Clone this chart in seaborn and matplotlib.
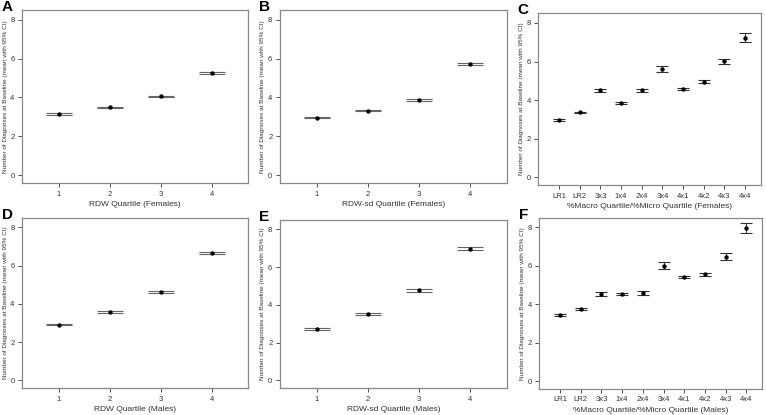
import numpy as np
import pandas as pd
import matplotlib.pyplot as plt
import seaborn as sns

sns.set_theme(style="white")
plt.rcParams['font.family'] = ['Liberation Sans', 'DejaVu Sans']

# data: means and half-widths of 95% CI
quart = ['1', '2', '3', '4']
combo = ['LR1', 'LR2', '3x3', '1x4', '2x4', '3x4', '4x1', '4x2', '4x3', '4x4']

a_mean = [3.16, 3.49, 4.05, 5.28]
a_ci = [0.04, 0.04, 0.05, 0.05]
b_mean = [2.96, 3.32, 3.88, 5.74]
b_ci = [0.04, 0.04, 0.05, 0.05]
c_mean = [2.95, 3.37, 4.52, 3.85, 4.52, 5.61, 4.59, 4.96, 6.01, 7.24]
c_ci = [0.05, 0.04, 0.08, 0.05, 0.08, 0.16, 0.05, 0.07, 0.13, 0.22]
d_mean = [2.92, 3.58, 4.60, 6.66]
d_ci = [0.04, 0.05, 0.05, 0.06]
e_mean = [2.73, 3.54, 4.77, 6.98]
e_ci = [0.04, 0.05, 0.06, 0.07]
f_mean = [3.44, 3.76, 4.54, 4.53, 4.59, 6.02, 5.42, 5.57, 6.48, 7.98]
f_ci = [0.05, 0.04, 0.09, 0.04, 0.08, 0.17, 0.05, 0.08, 0.17, 0.25]

panels = [
    ('A', quart, a_mean, a_ci, 'RDW Quartile (Females)', [0.029, 0.559, 0.295, 0.417]),
    ('B', quart, b_mean, b_ci, 'RDW-sd Quartile (Females)', [0.3655, 0.559, 0.296, 0.417]),
    ('C', combo, c_mean, c_ci, '%Macro Quartile/%Micro Quartile (Females)', [0.703, 0.554, 0.290, 0.414]),
    ('D', quart, d_mean, d_ci, 'RDW Quartile (Males)', [0.029, 0.065, 0.295, 0.410]),
    ('E', quart, e_mean, e_ci, 'RDW-sd Quartile (Males)', [0.3655, 0.065, 0.296, 0.405]),
    ('F', combo, f_mean, f_ci, '%Macro Quartile/%Micro Quartile (Males)', [0.704, 0.063, 0.291, 0.412]),
]

fig = plt.figure(figsize=(7.66, 4.15), dpi=100)

for letter, cats, mean, ci, xlab, pos in panels:
    ax = fig.add_axes(pos)
    df = pd.DataFrame({'cat': cats, 'mean': mean, 'ci': ci})
    df['x'] = np.arange(len(cats))
    wide = len(cats) == 4
    ax.errorbar(df['x'], df['mean'], yerr=df['ci'], fmt='none',
                ecolor='#666666' if wide else '#333333', elinewidth=0.8,
                capsize=9.5 if wide else 4.5, capthick=0.8, zorder=2)
    sns.scatterplot(data=df, x='x', y='mean', ax=ax, color='black',
                    s=10, edgecolor='black', linewidth=0, zorder=3, legend=False)
    ax.set_xticks(df['x'])
    ax.set_xticklabels(cats)
    if wide:
        ax.set_xlim(-0.72, 3.72)
    else:
        ax.set_xlim(-1.0, 9.76)
    ax.set_ylim(-0.4, 8.5)
    ax.set_yticks([0, 2, 4, 6, 8])
    ax.set_xlabel(xlab, fontsize=6, color='#333333', labelpad=2.5)
    ax.set_ylabel('Number of Diagnoses at Baseline (mean with 95% CI)',
                  fontsize=4.6, color='#333333', labelpad=2)
    ax.tick_params(axis='both', labelsize=5.5, colors='#333333', length=3,
                   width=0.6, direction='out', bottom=True, left=True, pad=2.5)
    for sp in ax.spines.values():
        sp.set_color('#888888')
        sp.set_linewidth(0.9)
    bb = ax.get_position()
    fig.text(bb.x0 - 0.027, bb.y1 + 0.024, letter, fontsize=11,
             fontweight='bold', va='top', ha='left', color='black')

fig.savefig('out.png', dpi=100)
